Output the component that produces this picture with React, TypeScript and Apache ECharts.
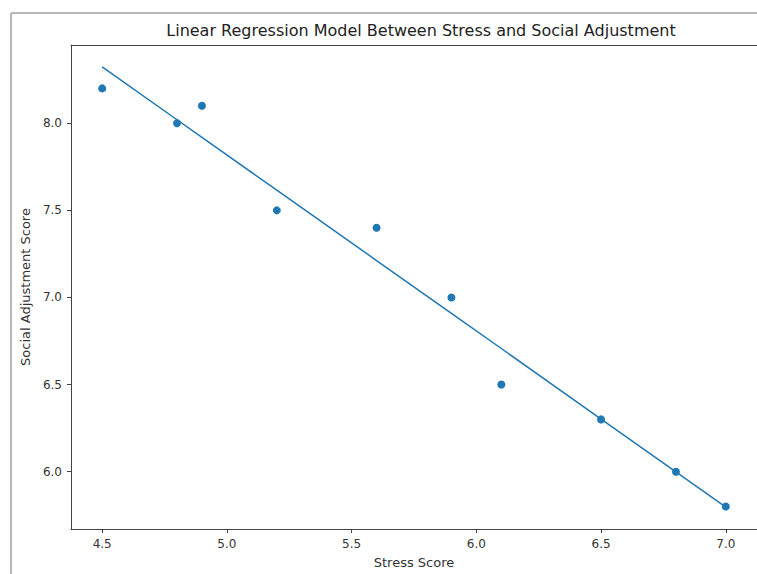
import React, { useEffect, useRef } from "react";
import * as echarts from "echarts";

const stressScores = [4.5, 4.8, 4.9, 5.2, 5.6, 5.9, 6.1, 6.5, 6.8, 7.0];
const socialAdjustment = [8.2, 8.0, 8.1, 7.5, 7.4, 7.0, 6.5, 6.3, 6.0, 5.8];
const predictedAdjustment = [8.323, 8.02, 7.919, 7.616, 7.212, 6.908, 6.707, 6.302, 5.999, 5.797];
const xTicks = [4.5, 5.0, 5.5, 6.0, 6.5, 7.0];
const yTicks = [6.0, 6.5, 7.0, 7.5, 8.0];

const FONT = "DejaVu Sans";

export default function App() {
  const ref = useRef<HTMLDivElement>(null);
  useEffect(() => {
    if (!ref.current) return;
    const chart = echarts.init(ref.current, undefined, { renderer: "svg" });
    const axisColor = "#444";
    chart.setOption({
      animation: false,
      backgroundColor: "#fff",
      title: {
        text: "Linear Regression Model Between Stress and Social Adjustment",
        left: 416,
        top: 17,
        textAlign: "center",
        textStyle: { fontFamily: FONT, fontSize: 16, fontWeight: "normal", color: "#222" },
      },
      graphic: [
        {
          type: "line",
          shape: { x1: 11, y1: 13, x2: 757, y2: 13 },
          style: { stroke: "#a0a0a0", lineWidth: 1.5 },
          silent: true,
        },
        {
          type: "line",
          shape: { x1: 11, y1: 13, x2: 11, y2: 574 },
          style: { stroke: "#a0a0a0", lineWidth: 1.5 },
          silent: true,
        },
      ],
      grid: {
        left: 71,
        top: 45,
        width: 690.4,
        height: 486,
        show: false,
      },
      xAxis: [
        {
          type: "value",
          min: 4.375,
          max: 7.125,
          name: "Stress Score",
          nameLocation: "middle",
          nameGap: 27,
          nameTextStyle: { fontFamily: FONT, fontSize: 13, color: "#333" },
          axisLine: { show: true, lineStyle: { color: axisColor, width: 1 } },
          axisTick: { show: true, inside: false, length: 4, lineStyle: { color: axisColor }, customValues: xTicks },
          axisLabel: {
            show: true,
            fontFamily: FONT,
            fontSize: 12,
            color: "#333",
            margin: 9,
            customValues: xTicks,
            formatter: (v: number) => v.toFixed(1),
          },
          splitLine: { show: false },
        },
        {
          type: "value",
          position: "top",
          min: 4.375,
          max: 7.125,
          axisLine: { show: true, lineStyle: { color: axisColor, width: 1 } },
          axisTick: { show: false },
          axisLabel: { show: false },
          splitLine: { show: false },
        },
      ],
      yAxis: {
        type: "value",
        min: 5.671,
        max: 8.449,
        name: "Social Adjustment Score",
        nameLocation: "middle",
        nameRotate: 90,
        nameGap: 37,
        nameTextStyle: { fontFamily: FONT, fontSize: 13, color: "#333" },
        axisLine: { show: true, lineStyle: { color: axisColor, width: 1 } },
        axisTick: { show: true, inside: false, length: 4, lineStyle: { color: axisColor }, customValues: yTicks },
        axisLabel: {
          show: true,
          fontFamily: FONT,
          fontSize: 12,
          color: "#333",
          margin: 9,
          customValues: yTicks,
          formatter: (v: number) => v.toFixed(1),
        },
        splitLine: { show: false },
      },
      series: [
        {
          type: "line",
          data: stressScores.map((x, i) => [x, predictedAdjustment[i]]),
          showSymbol: false,
          symbol: "none",
          lineStyle: { color: "#1f77b4", width: 1.5 },
          z: 2,
        },
        {
          type: "scatter",
          data: stressScores.map((x, i) => [x, socialAdjustment[i]]),
          symbolSize: 8,
          itemStyle: { color: "#1f77b4", opacity: 1 },
          z: 3,
        },
      ],
    });
    return () => chart.dispose();
  }, []);
  return (
    <div
      ref={ref}
      style={{ position: "fixed", left: 0, top: 0, width: 757, height: 574 }}
    />
  );
}
